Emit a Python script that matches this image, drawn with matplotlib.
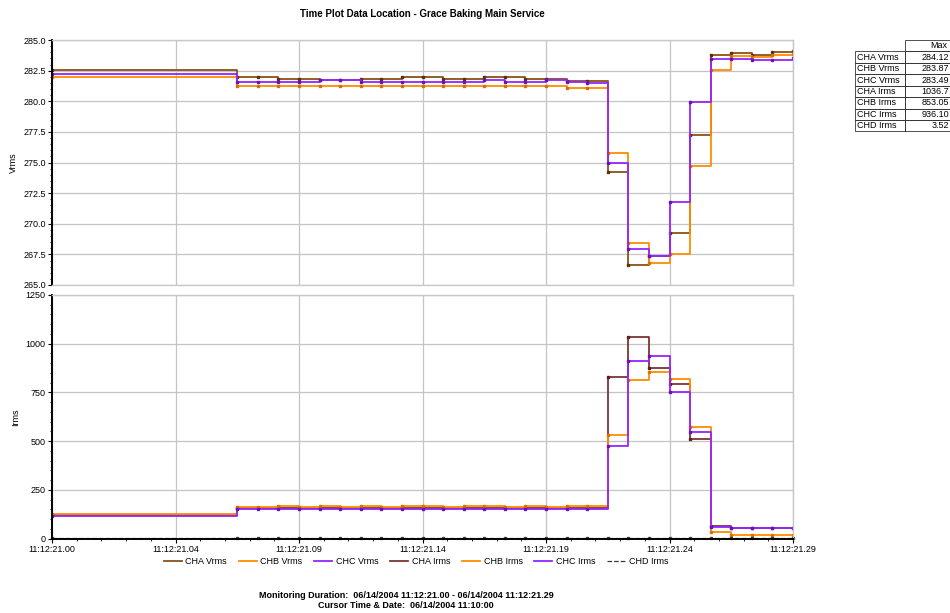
import matplotlib
matplotlib.use("Agg")
import matplotlib.pyplot as plt
from matplotlib.ticker import AutoMinorLocator, FixedLocator, FormatStrFormatter
from matplotlib.patches import Rectangle
from matplotlib.lines import Line2D

plt.rcParams['font.family'] = ['Liberation Sans', 'DejaVu Sans']

# sample times, seconds after 11:12:21.00
t = [0.0, 0.0725, 0.0806, 0.0886, 0.0967, 0.1047, 0.1128, 0.1208, 0.1289,
     0.1369, 0.1450, 0.1531, 0.1611, 0.1692, 0.1772, 0.1853, 0.1933, 0.2014,
     0.2094, 0.2175, 0.2256, 0.2336, 0.2417, 0.2497, 0.2578, 0.2658, 0.2739,
     0.2819, 0.2900]

cha_vrms = [282.55, 281.95, 281.95, 281.80, 281.80, 281.70, 281.70, 281.80, 281.80,
            282.00, 282.00, 281.80, 281.80, 282.00, 282.00, 281.85, 281.85, 281.65,
            281.65, 274.25, 266.65, 267.35, 269.25, 277.25, 283.80, 283.90, 283.75,
            284.05, 284.12]
chb_vrms = [282.00, 281.25, 281.25, 281.25, 281.25, 281.25, 281.25, 281.25, 281.25,
            281.25, 281.25, 281.25, 281.25, 281.25, 281.25, 281.25, 281.25, 281.05,
            281.05, 275.75, 268.40, 266.80, 267.55, 274.70, 282.55, 283.70, 283.65,
            283.75, 283.87]
chc_vrms = [282.20, 281.60, 281.60, 281.60, 281.60, 281.70, 281.70, 281.60, 281.60,
            281.60, 281.60, 281.60, 281.60, 281.75, 281.60, 281.60, 281.75, 281.55,
            281.45, 275.00, 267.90, 267.35, 271.75, 279.90, 283.45, 283.45, 283.35,
            283.35, 283.49]

cha_irms = [120, 157, 157, 156, 157, 157, 158, 157, 157, 158, 157, 157, 158, 157,
            157, 158, 157, 157, 157, 831, 1036.7, 873, 792, 511, 66, 54, 54, 54, 54]
chb_irms = [126, 164, 163, 165, 163, 166, 164, 165, 164, 166, 165, 164, 165, 166,
            164, 165, 164, 165, 165, 531, 814, 853.05, 817, 574, 35, 18, 18, 18, 18]
chc_irms = [116, 152, 152, 151, 152, 152, 153, 152, 152, 152, 153, 152, 152, 152,
            152, 153, 152, 152, 152, 475, 911, 936.10, 750, 548, 57, 52, 52, 52, 52]
chd_irms = [0.5, 3.1, 3.0, 3.2, 3.1, 3.0, 3.3, 3.1, 3.2, 3.0, 3.1, 3.2, 3.1, 3.0,
            3.2, 3.1, 3.3, 3.1, 3.2, 3.4, 3.52, 3.3, 3.2, 3.1, 3.0, 3.1, 3.0, 3.1, 3.0]

xtick_labels = ['11:12:21.00', '11:12:21.04', '11:12:21.09', '11:12:21.14',
                '11:12:21.19', '11:12:21.24', '11:12:21.29']
span = 0.29

table_rows = ['CHA Vrms', 'CHB Vrms', 'CHC Vrms', 'CHA Irms', 'CHB Irms', 'CHC Irms', 'CHD Irms']
table_max = ['284.12', '283.87', '283.49', '1036.7', '853.05', '936.10', '3.52']

c_cha_v = '#8a5218'
c_orange = '#ff8c00'
c_purple = '#9424ff'
c_cha_i = '#7d3535'
c_chd = '#3a3a3a'

W, H = 950, 613
fig = plt.figure(figsize=(9.5, 6.13), dpi=100)

def fx(px):
    return px / W

def fy(py):
    return 1 - py / H

ax1 = fig.add_axes([fx(52), fy(285), fx(741), 245 / H])
ax2 = fig.add_axes([fx(52), fy(538.5), fx(741), 243.5 / H])

xticks = [span * i / 6 for i in range(7)]

def style(ax, ylim, yticks, fmt, show_x):
    ax.set_xlim(0, span)
    ax.set_ylim(*ylim)
    ax.set_yticks(yticks)
    ax.yaxis.set_major_formatter(FormatStrFormatter(fmt))
    ax.xaxis.set_major_locator(FixedLocator(xticks))
    ax.grid(True, color='#c4c4c4', lw=0.9)
    ax.set_axisbelow(True)
    for s in ['top', 'right', 'bottom']:
        ax.spines[s].set_color('#c8c8c8')
        ax.spines[s].set_linewidth(1.0)
    ax.spines['left'].set_color('black')
    ax.spines['left'].set_linewidth(1.4)
    ax.yaxis.set_minor_locator(AutoMinorLocator(5))
    ax.tick_params(axis='y', which='major', length=3, width=0.8, labelsize=6.5, pad=1.5)
    ax.tick_params(axis='y', which='minor', length=1.5, width=0.6)
    if show_x:
        ax.spines['bottom'].set_color('black')
        ax.spines['bottom'].set_linewidth(1.4)
        ax.xaxis.set_minor_locator(AutoMinorLocator(5))
        ax.set_xticklabels(xtick_labels)
        ax.tick_params(axis='x', which='major', length=3, width=0.8, labelsize=6.5, pad=2)
        ax.tick_params(axis='x', which='minor', length=1.5, width=0.6)
    else:
        ax.tick_params(axis='x', which='both', length=0, labelbottom=False)

style(ax1, (265, 285), [265 + 2.5 * i for i in range(9)], '%.1f', False)
style(ax2, (0, 1250), [0, 250, 500, 750, 1000, 1250], '%d', True)

kw = dict(drawstyle='steps-post', lw=1.3, marker='s', ms=1.5)
ax1.plot(t, cha_vrms, color=c_cha_v, mfc='#5a3010', mec='#5a3010', **kw)
ax1.plot(t, chb_vrms, color=c_orange, mfc='#d96f00', mec='#d96f00', **kw)
ax1.plot(t, chc_vrms, color=c_purple, mfc='#6a10c0', mec='#6a10c0', **kw)
ax1.set_ylabel('Vrms', fontsize=6.5, labelpad=4)

ax2.plot(t, cha_irms, color=c_cha_i, mfc='#5a2020', mec='#5a2020', **kw)
ax2.plot(t, chb_irms, color=c_orange, mfc='#d96f00', mec='#d96f00', **kw)
ax2.plot(t, chc_irms, color=c_purple, mfc='#6a10c0', mec='#6a10c0', **kw)
ax2.plot(t, chd_irms, color=c_chd, drawstyle='steps-post', lw=0.9, ls='--',
         marker='s', ms=1.4, clip_on=False)
ax2.set_ylabel('Irms', fontsize=6.5, labelpad=4)

fig.text(fx(422), fy(14), 'Time Plot Data Location - Grace Baking Main Service',
         ha='center', va='center', fontsize=7, fontweight='bold')

handles = [Line2D([], [], color=c_cha_v, lw=1.3),
           Line2D([], [], color=c_orange, lw=1.3),
           Line2D([], [], color=c_purple, lw=1.3),
           Line2D([], [], color=c_cha_i, lw=1.3),
           Line2D([], [], color=c_orange, lw=1.3),
           Line2D([], [], color=c_purple, lw=1.3),
           Line2D([], [], color=c_chd, lw=0.9, ls='--')]
names = ['CHA Vrms', 'CHB Vrms', 'CHC Vrms', 'CHA Irms', 'CHB Irms', 'CHC Irms', 'CHD Irms']
fig.legend(handles, names, loc='center', bbox_to_anchor=(fx(416), fy(562)), ncol=7,
           frameon=False, fontsize=6.5, handlelength=2.0, handletextpad=0.4,
           columnspacing=1.3)

fig.text(fx(406), fy(595), 'Monitoring Duration:  06/14/2004 11:12:21.00 - 06/14/2004 11:12:21.29',
         ha='center', va='center', fontsize=6.5, fontweight='bold')
fig.text(fx(406), fy(606), 'Cursor Time & Date:  06/14/2004 11:10:00',
         ha='center', va='center', fontsize=6.5, fontweight='bold')

# max table at the right edge
row_h = 11.43
x0, x1, x2 = 855, 905, 960
y_top = 40
fig.add_artist(Rectangle((fx(x1), fy(y_top + row_h)), fx(x2 - x1), row_h / H,
                         transform=fig.transFigure, fill=False, lw=0.6, ec='#333333'))
fig.text(fx(947), fy(y_top + row_h / 2), 'Max', ha='right', va='center', fontsize=6.5)
for i, (name, val) in enumerate(zip(table_rows, table_max)):
    yb = y_top + row_h * (i + 2)
    fig.add_artist(Rectangle((fx(x0), fy(yb)), fx(x1 - x0), row_h / H,
                             transform=fig.transFigure, fill=False, lw=0.6, ec='#333333'))
    fig.add_artist(Rectangle((fx(x1), fy(yb)), fx(x2 - x1), row_h / H,
                             transform=fig.transFigure, fill=False, lw=0.6, ec='#333333'))
    fig.text(fx(x0 + 2), fy(yb - row_h / 2), name, ha='left', va='center', fontsize=6.5)
    fig.text(fx(949), fy(yb - row_h / 2), val, ha='right', va='center', fontsize=6.5)

fig.savefig('out.png', dpi=100)
